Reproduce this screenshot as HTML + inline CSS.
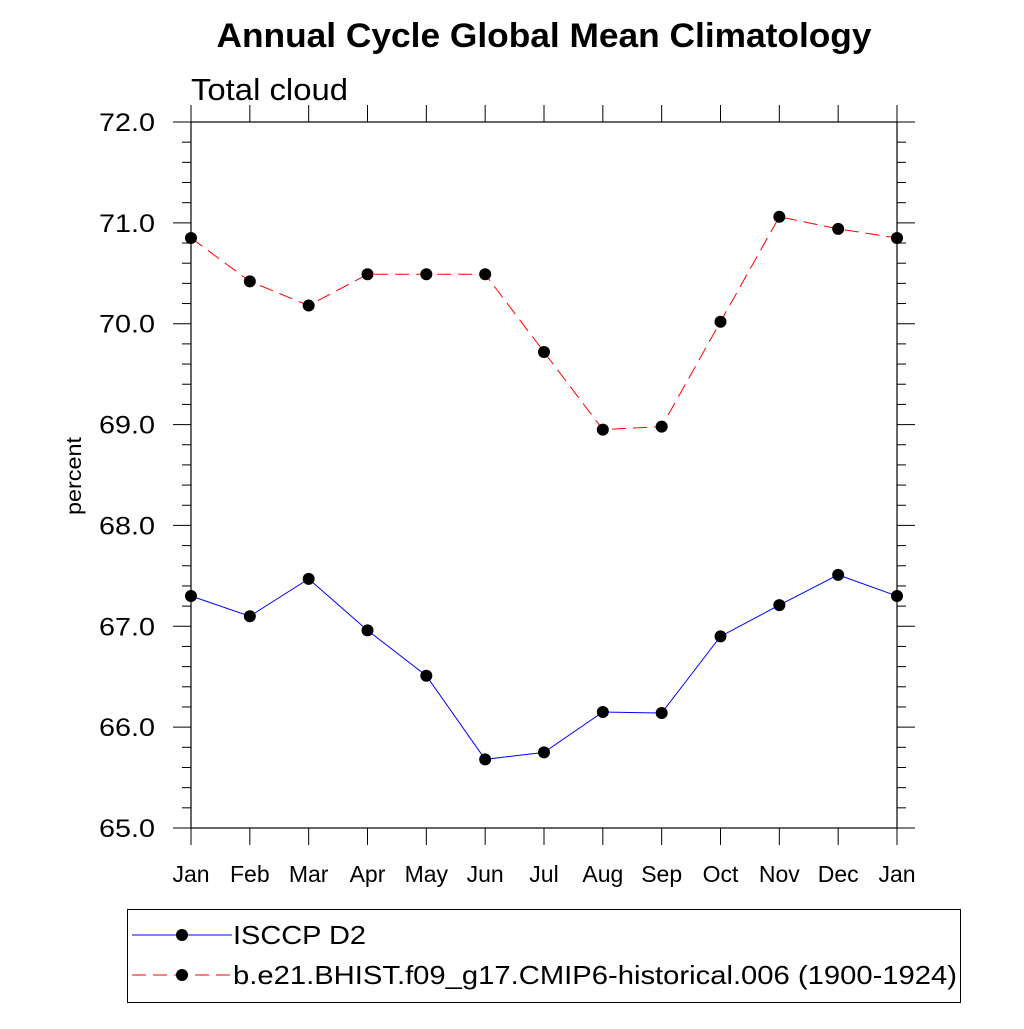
<!DOCTYPE html>
<html><head><meta charset="utf-8"><style>
body{margin:0;background:#fff}
svg text{font-family:"Liberation Sans",sans-serif}
</style></head><body>
<svg id="c" width="1024" height="1024" xmlns="http://www.w3.org/2000/svg">
<text x="544" y="47" text-anchor="middle" font-size="34" font-weight="bold" textLength="655" lengthAdjust="spacingAndGlyphs">Annual Cycle Global Mean Climatology</text>
<text x="191" y="100" font-size="31" textLength="157" lengthAdjust="spacingAndGlyphs">Total cloud</text>
<text transform="translate(81,476) rotate(-90)" text-anchor="middle" font-size="21" textLength="78" lengthAdjust="spacingAndGlyphs">percent</text>
<g id="axes"></g>
<g id="series"></g>
<rect x="127.5" y="909.5" width="833" height="93" fill="none" stroke="#000" stroke-width="1"/>
<g>
<line x1="132" y1="935" x2="232" y2="935" stroke="#00f" stroke-width="1"/>
<circle cx="182" cy="935" r="6" fill="#000"/>
<text x="233" y="944" font-size="26" textLength="133" lengthAdjust="spacingAndGlyphs">ISCCP D2</text></g>
<g>
<line x1="132" y1="975" x2="232" y2="975" stroke="#f00" stroke-width="1" stroke-dasharray="14,7"/>
<circle cx="182" cy="975" r="6" fill="#000"/>
<text x="233" y="984" font-size="26" textLength="724" lengthAdjust="spacingAndGlyphs">b.e21.BHIST.f09_g17.CMIP6-historical.006 (1900-1924)</text></g>
</svg>
<script>
const months=["Jan","Feb","Mar","Apr","May","Jun","Jul","Aug","Sep","Oct","Nov","Dec","Jan"];
const isccp=[67.30,67.10,67.47,66.96,66.51,65.68,65.75,66.15,66.14,66.90,67.21,67.51,67.30];
const model=[70.85,70.42,70.18,70.49,70.49,70.49,69.72,68.95,68.98,70.02,71.06,70.94,70.85];
const yTicks=[65,66,67,68,69,70,71,72];
const NS="http://www.w3.org/2000/svg";
const L=191,R=897,T=122,B=828,ymin=65,ymax=72;
const xs=i=>L+(R-L)*i/(months.length-1);
const ys=v=>B-(v-ymin)/(ymax-ymin)*(B-T);
function mk(tag,at,parent){const e=document.createElementNS(NS,tag);for(const k in at)e.setAttribute(k,at[k]);parent.appendChild(e);return e;}
const ax=document.getElementById('axes');
const frame=mk('rect',{x:L,y:T,width:R-L,height:B-T,fill:'none',stroke:'#000','stroke-width':1.2},ax);


for(let v=ymin;v<=ymax+1e-6;v+=0.2){
  const y=ys(v);const major=Math.abs(v-Math.round(v))<1e-6;const len=major?18:9;
  mk('line',{x1:L-len,y1:y,x2:L,y2:y,stroke:'#000','stroke-width':1},ax);
  mk('line',{x1:R,y1:y,x2:R+len,y2:y,stroke:'#000','stroke-width':1},ax);
}
yTicks.forEach(v=>{const t=mk('text',{x:155,y:ys(v)+9,'text-anchor':'end','font-size':25,textLength:56,lengthAdjust:'spacingAndGlyphs'},ax);t.textContent=v.toFixed(1);

});
months.forEach((m,i)=>{const x=xs(i);
  mk('line',{x1:x,y1:B,x2:x,y2:B+17,stroke:'#000','stroke-width':1},ax);
  mk('line',{x1:x,y1:T-17,x2:x,y2:T,stroke:'#000','stroke-width':1},ax);
  const t=mk('text',{x:x,y:882,'text-anchor':'middle','font-size':23},ax);t.textContent=m;
  
  });
const sg=document.getElementById('series');
function series(vals,color,dash,name){
  const p=mk('polyline',{points:vals.map((v,i)=>xs(i)+','+ys(v)).join(' '),fill:'none',stroke:color,'stroke-width':1,'stroke-dasharray':dash},sg);
  
  
  vals.forEach((v,i)=>{const c=mk('circle',{cx:xs(i),cy:ys(v),r:6,fill:'#000'},sg);
    
    });
}
series(isccp,'#00f','none','isccp');
series(model,'#f00','14,7','model');
</script>
</body></html>
